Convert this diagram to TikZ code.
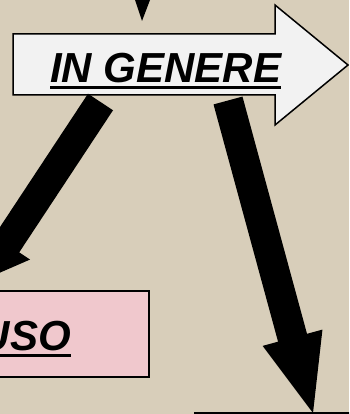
\documentclass[tikz,border=0pt]{standalone}
\usepackage{fontspec}
\setmainfont{Liberation Sans}
\usetikzlibrary{calc}

\definecolor{fondo}{RGB}{216,206,186}
\definecolor{rosa}{RGB}{240,200,205}
\definecolor{bianco}{RGB}{242,242,242}

% freccia piena: #1 partenza, #2 punta, #3 mezza asta, #4 mezza testa, #5 lunghezza testa
\newcommand{\frecciona}[5]{%
  \coordinate (hb) at ($(#2)!#5!(#1)$);
  \fill ($(#1)!#3!90:(#2)$) -- ($(hb)!#3!-90:(#1)$) -- ($(hb)!#4!-90:(#1)$)
    -- (#2) -- ($(hb)!#4!90:(#1)$) -- ($(hb)!#3!90:(#1)$)
    -- ($(#1)!#3!-90:(#2)$) -- cycle;}

\begin{document}
\begin{tikzpicture}[x=1pt,y=-1pt,line join=miter,
  scritta/.style={inner sep=0pt,font=\bfseries\itshape\fontsize{42}{42}\selectfont},
  sottolinea/.style={line width=3pt},
  bordo/.style={draw=black,line width=1.5pt}]
  \clip (0,0) rectangle (349,414);
  \fill[fondo] (0,0) rectangle (349,414);
  % punta dall'alto
  \fill (135,0) -- (150,0) -- (142,21) -- cycle;
  % freccia bianca
  \filldraw[bordo,fill=bianco] (13,34) -- (275,34) -- (275,5) -- (348,65)
    -- (275,125) -- (275,95) -- (13,95) -- cycle;
  \node[scritta,anchor=base west] (gen) at (50,83) {IN GENERE};
  \draw[sottolinea] ([yshift=-4.5pt]gen.base west) -- ([yshift=-4.5pt]gen.base east);
  % riquadro rosa
  \filldraw[bordo,fill=rosa] (-10,291) rectangle (149,377);
  \node[scritta,anchor=base east] (uso) at (71,350) {USO};
  \draw[sottolinea] ([yshift=-5.5pt]uso.base west) -- ([yshift=-5.5pt]uso.base east);
  % riquadro in basso
  \draw[line width=2.5pt] (195,413) rectangle (360,440);
  % frecce nere
  \coordinate (sx0) at (100.5,102);
  \coordinate (sx1) at (-17,280);
  \frecciona{sx0}{sx1}{15pt}{28pt}{43pt}
  \coordinate (dx0) at (228,100.5);
  \coordinate (dx1) at (313,413);
  \frecciona{dx0}{dx1}{15pt}{31pt}{78pt}
\end{tikzpicture}
\end{document}
